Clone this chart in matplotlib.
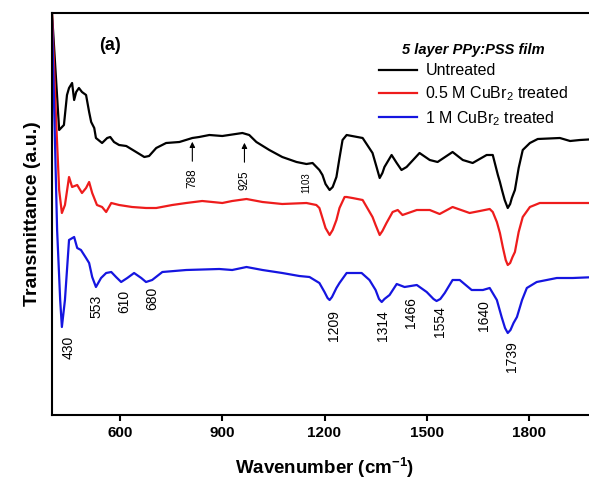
import matplotlib
matplotlib.use('Agg')
import matplotlib.pyplot as plt

plt.rcParams['font.family'] = ['Liberation Sans', 'DejaVu Sans']
plt.rcParams['mathtext.fontset'] = 'custom'
plt.rcParams['mathtext.rm'] = 'Liberation Sans'
plt.rcParams['mathtext.bf'] = 'Liberation Sans:bold'

# FTIR spectra (arbitrary transmittance units)
wn_untreated = [400, 421, 435, 444, 450, 459, 465, 471, 479, 488, 500, 509, 515, 524, 529,
                547, 562, 571, 582, 597, 618, 647, 671, 685, 706, 735, 774, 812, 832, 862,
                900, 959, 979, 1000, 1038, 1076, 1118, 1147, 1165, 1185, 1194, 1203, 1215,
                1224, 1235, 1244, 1253, 1265, 1312, 1341, 1352, 1362, 1370, 1376, 1397, 1412,
                1426, 1441, 1479, 1509, 1532, 1576, 1606, 1635, 1676, 1694, 1709, 1715, 1721,
                1729, 1738, 1745, 1750, 1759, 1770, 1782, 1803, 1826, 1891, 1921, 1950, 2000]
t_untreated = [467, 350, 355, 385, 392, 397, 380, 388, 392, 388, 385, 368, 358, 352, 342,
               337, 342, 343, 338, 335, 334, 328, 323, 324, 332, 337, 338, 342, 343, 345,
               344, 347, 345, 338, 330, 323, 318, 316, 317, 310, 305, 296, 290,
               293, 303, 322, 340, 345, 342, 327, 314, 302, 307, 313, 325, 317,
               310, 313, 327, 320, 318, 328, 320, 317, 325, 325, 305, 298, 290,
               280, 272, 276, 282, 290, 312, 330, 337, 341, 342, 339, 340, 341]

wn_05M = [400, 412, 421, 429, 438, 450, 459, 474, 488, 500, 509, 518, 532, 547, 559,
          574, 597, 635, 676, 706, 753, 794, 841, 900, 929, 971, 1018, 1076, 1147, 1176,
          1185, 1194, 1203, 1215, 1224, 1235, 1244, 1259, 1265, 1282, 1312, 1341, 1350,
          1362, 1370, 1382, 1400, 1415, 1429, 1471, 1509, 1538, 1576, 1626, 1656, 1685,
          1694, 1706, 1715, 1724, 1732, 1738, 1745, 1752, 1759, 1770, 1782, 1803, 1832,
          1891, 2000]
t_05M = [467, 360, 290, 267, 275, 303, 293, 295, 287, 292, 298, 287, 275, 273, 268,
         277, 275, 273, 272, 272, 275, 277, 279, 277, 279, 281, 278, 276, 277, 275,
         272, 262, 252, 245, 250, 260, 272, 283, 283, 282, 280, 263, 255,
         245, 249, 257, 268, 270, 265, 270, 270, 266, 273, 267, 269, 271,
         268, 258, 247, 232, 220, 215, 217, 223, 228, 248, 263, 273, 277,
         277, 277]

wn_1M = [400, 415, 424, 429, 438, 450, 465, 474, 485, 500, 509, 518, 529, 544, 559,
         574, 588, 603, 621, 641, 662, 676, 694, 724, 794, 891, 929, 971, 1018, 1076,
         1126, 1156, 1185, 1200, 1209, 1215, 1222, 1235, 1244, 1265, 1309, 1332, 1350,
         1360, 1368, 1376, 1391, 1412, 1435, 1471, 1500, 1520, 1529, 1540, 1553, 1576,
         1597, 1632, 1665, 1685, 1706, 1720, 1730, 1738, 1746, 1755, 1765, 1780, 1794,
         1823, 1882, 1929, 2000]
t_1M = [460, 250, 180, 153, 180, 240, 243, 232, 230, 222, 217, 203, 193, 202, 207,
        208, 203, 198, 202, 207, 202, 198, 200, 208, 210, 211, 210, 213, 210, 207,
        204, 203, 197, 188, 182, 180, 183, 192, 197, 207, 207, 200, 190,
        181, 178, 181, 185, 196, 193, 195, 188, 181, 179, 181, 187, 200,
        200, 190, 190, 192, 180, 163, 152, 147, 150, 157, 163, 180, 192,
        198, 202, 202, 203]

series_labels = ['Untreated', '0.5 M CuBr$_2$ treated', '1 M CuBr$_2$ treated']
series_colors = ['black', '#ee1c1c', '#1515e0']

# peak labels (text, x position, y position)
upper_peaks = ['788', '925']
upper_x = [812, 965]
upper_y = [302, 300]
upper_arrow_tip = [341, 340]
upper_arrow_tail = [316, 315]
peaks_1103 = ('1103', 1147, 297)
lower_peaks = ['430', '553', '610', '680', '1209', '1314', '1466', '1554', '1640', '1739']
lower_x = [450, 529, 612, 694, 1229, 1371, 1453, 1538, 1668, 1750]
lower_y = [133, 174, 179, 182, 154, 154, 167, 158, 164, 123]

fig = plt.figure(figsize=(5.89, 4.8), dpi=100)
ax = fig.add_axes([52 / 589, 65 / 480, 545 / 589, 402 / 480])

for wn, t, lab, c in zip([wn_untreated, wn_05M, wn_1M], [t_untreated, t_05M, t_1M],
                         series_labels, series_colors):
    ax.plot(wn, t, color=c, lw=1.6, label=lab)

ax.set_xlim(400, 2000)
ax.set_ylim(65, 467)
ax.set_xticks([600, 900, 1200, 1500, 1800])
ax.set_yticks([])
ax.spines['right'].set_visible(False)
for s in ['left', 'bottom', 'top']:
    ax.spines[s].set_linewidth(1.5)
ax.tick_params(axis='x', direction='out', length=4, width=1.5, labelsize=11, pad=4)
for lbl in ax.get_xticklabels():
    lbl.set_fontweight('bold')

ax.set_xlabel('Wavenumber (cm$^{\\mathbf{-1}}$)', fontsize=13.5, fontweight='bold', labelpad=11)
ax.set_ylabel('Transmittance (a.u.)', fontsize=14, fontweight='bold', labelpad=8)

ax.text(0.106, 0.92, '(a)', transform=ax.transAxes, fontsize=13, fontweight='bold',
        ha='center', va='center')

for lab, x, y, tip, tail in zip(upper_peaks, upper_x, upper_y, upper_arrow_tip, upper_arrow_tail):
    ax.text(x, y, lab, rotation=90, ha='center', va='center', fontsize=8.5)
    ax.annotate('', xy=(x, tip), xytext=(x, tail),
                arrowprops=dict(arrowstyle='-|>', color='black', lw=0.8,
                                mutation_scale=8))
ax.text(peaks_1103[1], peaks_1103[2], peaks_1103[0], rotation=90, ha='center',
        va='center', fontsize=7)
for lab, x, y in zip(lower_peaks, lower_x, lower_y):
    ax.text(x, y, lab, rotation=90, ha='center', va='center', fontsize=10)

leg = ax.legend(loc='upper left', bbox_to_anchor=(0.60, 0.925), frameon=False,
                fontsize=11.5, handlelength=2.4, handletextpad=0.5, labelspacing=0.38,
                borderpad=0, borderaxespad=0, title='5 layer PPy:PSS film',
                title_fontproperties={'weight': 'bold', 'style': 'italic', 'size': 10.5})

fig.savefig('out.png', dpi=100)
